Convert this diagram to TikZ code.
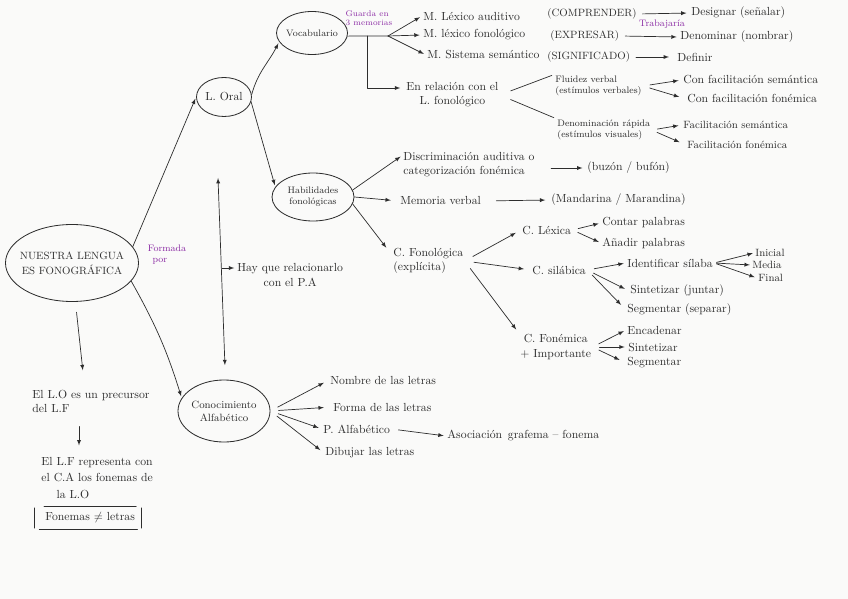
\documentclass[tikz,border=0pt]{standalone}
\usetikzlibrary{shapes.geometric}
\definecolor{ink}{RGB}{45,45,45}
\definecolor{inkpurple}{RGB}{140,45,165}
\definecolor{paper}{RGB}{250,250,249}
\begin{document}
\begin{tikzpicture}[x=0.03cm,y=-0.03cm,line cap=round,line join=round,>=latex,
    oval/.style={draw=ink,line width=0.7pt,ellipse,inner sep=0pt},
    inoval/.style={align=center,text=ink,inner sep=0pt},
    txt/.style={anchor=west,inner sep=1pt,text=ink},
    note/.style={inner sep=0pt,text=inkpurple,font=\footnotesize,align=left},
    lnk/.style={draw=ink,line width=0.6pt,->,shorten >=1.5pt},
    bare/.style={draw=ink,line width=0.6pt}]
  \fill[paper] (0,0) rectangle (848,599);
  \useasboundingbox (0,0) rectangle (848,599);

  % ovals
  \node[oval,minimum width=3.99cm,minimum height=2.31cm,
    label={[inoval,font=\small]center:NUESTRA LENGUA\\[2pt]ES FONOGRÁFICA}] (nuestra) at (72,263) {};
  \node[oval,minimum width=1.65cm,minimum height=1.17cm,
    label={[inoval]center:L. Oral}] (oral) at (224,97) {};
  \node[oval,minimum width=2.13cm,minimum height=1.29cm,
    label={[inoval,font=\footnotesize]center:Vocabulario}] (vocab) at (312,33) {};
  \node[oval,minimum width=2.46cm,minimum height=1.44cm,
    label={[inoval,font=\footnotesize]center:Habilidades\\fonológicas}] (habil) at (313,197) {};
  \node[oval,minimum width=2.76cm,minimum height=1.86cm,
    label={[inoval,font=\small]center:Conocimiento\\Alfabético}] (conoc) at (224,411) {};

  % notes
  \node[note] (formada) at (167,255) {Formada\\\hspace*{0.5em}por};
  \node[note,font=\scriptsize] (guarda) at (369,18) {Guarda en\\3 memorias};
  \node[note] (trabaj) at (662,24) {Trabajaría};

  % vocabulario
  \node[txt] (mla) at (422,16) {M. Léxico auditivo};
  \node[txt,font=\small] (comp) at (546,14) {(COMPRENDER)};
  \node[txt] (desig) at (690,13) {Designar (señalar)};
  \node[txt] (mlf) at (422,35) {M. léxico fonológico};
  \node[txt,font=\small] (expr) at (549,36) {(EXPRESAR)};
  \node[txt] (denom) at (679,37) {Denominar (nombrar)};
  \node[txt] (mss) at (426,55) {M. Sistema semántico};
  \node[txt,font=\small] (signif) at (546,57) {(SIGNIFICADO)};
  \node[txt] (defin) at (676,57) {Definir};
  \node[txt,align=center] (enrel) at (405,95) {En relación con el\\L. fonológico};
  \node[txt,font=\footnotesize,align=left] (fluid) at (554,86) {Fluidez verbal\\(estímulos verbales)};
  \node[txt,font=\footnotesize,align=left] (denra) at (556,130) {Denominación rápida\\(estímulos visuales)};
  \node[txt] (consem) at (682,80) {Con facilitación semántica};
  \node[txt] (confon) at (686,99) {Con facilitación fonémica};
  \node[txt,font=\small] (facsem) at (682,125) {Facilitación semántica};
  \node[txt,font=\small] (facfon) at (686,145) {Facilitación fonémica};

  % habilidades
  \node[txt,align=left] (discr) at (402,165) {Discriminación auditiva o\\categorización fonémica};
  \node[txt] (bufon) at (586,168) {(buzón / bufón)};
  \node[txt] (memor) at (399,201) {Memoria verbal};
  \node[txt] (mandar) at (550,200) {(Mandarina / Marandina)};
  \node[txt,align=left] (cfono) at (392,261) {C. Fonológica\\(explícita)};
  \node[txt] (clex) at (521,230) {C. Léxica};
  \node[txt] (csil) at (531,270) {C. silábica};
  \node[txt,align=center] (cfonem) at (519,347) {C. Fonémica\\+ Importante};
  \node[txt] (contar) at (601,223) {Contar palabras};
  \node[txt] (anadir) at (601,243) {Añadir palabras};
  \node[txt] (ident) at (626,263) {Identificar sílaba};
  \node[txt] (sintj) at (629,291) {Sintetizar (juntar)};
  \node[txt] (segms) at (626,310) {Segmentar (separar)};
  \node[txt,font=\small] (inic) at (754,253) {Inicial};
  \node[txt,font=\small] (media) at (751,265) {Media};
  \node[txt,font=\small] (final) at (757,278) {Final};
  \node[txt] (encad) at (626,330) {Encadenar};
  \node[txt] (sintet) at (627,347) {Sintetizar};
  \node[txt] (segm) at (626,363) {Segmentar};

  % conocimiento
  \node[txt] (nombre) at (329,380) {Nombre de las letras};
  \node[txt] (forma) at (332,407) {Forma de las letras};
  \node[txt] (palf) at (322,429) {P. Alfabético};
  \node[txt] (asoc) at (446,436) {Asociación\, grafema -- fonema};
  \node[txt] (dibuj) at (324,453) {Dibujar las letras};

  % left column
  \node[txt,align=center] (hay) at (236,275) {Hay que relacionarlo\\con el P.A};
  \node[txt,align=left] (precur) at (31,401) {El L.O es un precursor\\del L.F};
  \node[txt,align=left] (repres) at (40,478) {El L.F representa con\\[2pt]el C.A los fonemas de\\[2pt]\hspace*{1.3em}la L.O};
  \node[txt,inner ysep=5pt] (fonlet) at (44,518) {Fonemas $\neq$ letras};

  \coordinate (vsplit) at (388,36);
  \coordinate (vdrop) at (367,36);
  \coordinate (enrelin) at (402,88);
  \coordinate (lodown) at (83,372);
  \coordinate (patop) at (218,178);
  \coordinate (pabot) at (225,367);
  \coordinate (pabranch) at (222,268);
  \coordinate (hookx) at (79,0);

  % connectors
  \draw[lnk] (nuestra.15) -- (oral.west);
  \draw[lnk] (nuestra.-17) to[bend left=6] (conoc.163);
  \draw[lnk,shorten <=9pt] (nuestra.-85) -- (lodown);
  \draw[lnk,<->] (patop) -- (pabot);
  \draw[lnk] (pabranch) -- (pabranch -| hay.west);
  \draw[lnk,shorten <=11pt,shorten >=9pt] (precur.south -| hookx) -- (repres.north -| hookx);
  \draw[bare] (fonlet.north west) -- (fonlet.north east);
  \draw[bare] ([xshift=-4pt]fonlet.south west) -- ([xshift=1pt]fonlet.south east);
  \draw[bare] ([xshift=-8pt,yshift=-1pt]fonlet.north west) -- ([xshift=-8pt,yshift=1pt]fonlet.south west);
  \draw[bare] ([xshift=4pt,yshift=-1pt]fonlet.north east) -- ([xshift=4pt,yshift=1pt]fonlet.south east);

  \draw[lnk] (oral.5) to[out=75,in=-117] (vocab.195);
  \draw[lnk] (oral.-10) -- (habil.165);

  \draw[bare] (vocab.-5) -- (vsplit);
  \draw[lnk,shorten >=2pt] (vsplit) -- (mla.west);
  \draw[lnk,shorten >=2pt] (vsplit) -- (mlf.west);
  \draw[lnk,shorten >=2pt] (vsplit) -- (mss.west);
  \draw[lnk] (vdrop) |- (enrelin);
  \draw[lnk,shorten <=4pt,shorten >=3pt] (comp.east) -- (desig.west);
  \draw[lnk,shorten <=4pt,shorten >=2pt] (expr.east) -- (denom.west);
  \draw[lnk,shorten <=4pt,shorten >=6pt] (signif.east) -- (defin.west);
  \draw[bare,shorten <=10pt,shorten >=2pt] (enrel.east) -- (fluid.north west);
  \draw[bare,shorten <=10pt,shorten >=2pt] (enrel.east) -- (denra.north west);
  \draw[lnk,shorten <=6pt,shorten >=3pt] (fluid.east) -- (consem.west);
  \draw[lnk,shorten <=6pt,shorten >=6pt] (fluid.east) -- (confon.west);
  \draw[lnk,shorten <=5pt,shorten >=3pt] (denra.east) -- (facsem.west);
  \draw[lnk,shorten <=5pt,shorten >=6pt] (denra.east) -- (facfon.west);

  \draw[lnk] (habil.10) -- ([yshift=8pt]discr.west);
  \draw[lnk,shorten >=7pt] (habil.east) -- (memor.west);
  \draw[lnk,shorten >=8pt] (habil.-10) -- ([yshift=5pt]cfono.west);
  \draw[lnk,shorten <=13pt,shorten >=3pt] (discr.east |- bufon.west) -- (bufon.west);
  \draw[lnk,shorten <=12pt,shorten >=4pt] (memor.east) -- (mandar.west);
  \draw[lnk,shorten <=8pt,shorten >=5pt] (cfono.east) -- (clex.west);
  \draw[lnk,shorten <=8pt,shorten >=6pt] (cfono.east) -- (csil.west);
  \draw[lnk,shorten <=8pt,shorten >=4pt] (cfono.east) -- (cfonem.north west);
  \draw[lnk,shorten <=5pt,shorten >=2pt] (clex.east) -- (contar.west);
  \draw[lnk,shorten <=5pt,shorten >=2pt] (clex.east) -- (anadir.west);
  \draw[lnk,shorten <=6pt,shorten >=2pt] (csil.east) -- (ident.west);
  \draw[lnk,shorten <=6pt,shorten >=4pt] (csil.east) -- (sintj.west);
  \draw[lnk,shorten <=6pt,shorten >=6pt] (csil.east) -- (segms.west);
  \draw[lnk,shorten <=2pt,shorten >=1pt] (ident.east) -- (inic.west);
  \draw[lnk,shorten <=2pt,shorten >=1pt] (ident.east) -- (media.west);
  \draw[lnk,shorten <=2pt,shorten >=2pt] (ident.east) -- (final.west);
  \draw[lnk,shorten <=6pt,shorten >=2pt] (cfonem.east) -- (encad.west);
  \draw[lnk,shorten <=6pt,shorten >=2pt] (cfonem.east) -- (sintet.west);
  \draw[lnk,shorten <=6pt,shorten >=6pt] (cfonem.east) -- (segm.west);

  \draw[lnk,shorten <=7pt,shorten >=5pt] (conoc.east) -- (nombre.west);
  \draw[lnk,shorten <=7pt,shorten >=7pt] (conoc.east) -- (forma.west);
  \draw[lnk,shorten <=7pt,shorten >=3pt] (conoc.east) -- (palf.west);
  \draw[lnk,shorten <=7pt,shorten >=4pt] (conoc.east) -- (dibuj.west);
  \draw[lnk,shorten <=6pt,shorten >=2pt] (palf.east) -- (asoc.west);
\end{tikzpicture}
\end{document}
